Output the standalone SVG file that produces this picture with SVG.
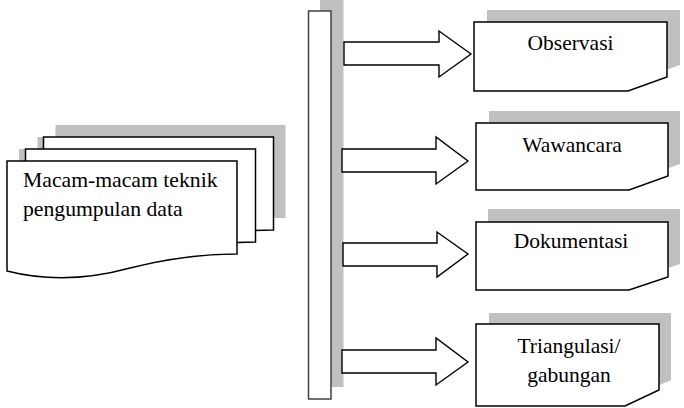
<svg xmlns="http://www.w3.org/2000/svg" width="684" height="408" viewBox="0 0 684 408">
<style>
.sh{fill:#c0c0c0;stroke:none}
.bx{fill:#fff;stroke:#000;stroke-width:1.5;stroke-linejoin:miter}
.ar{fill:#fff;stroke:#000;stroke-width:1.4}
</style>
<defs>
<path id="doc" d="M7,161 H237 V254 C210,254 170,258 130,268 C90,279 50,282 7,271 Z"/>
</defs>
<rect width="684" height="408" fill="#fff"/>
<g id="bar">
<rect class="sh" x="320" y="-1" width="23.5" height="388"/>
<rect x="308.5" y="11" width="22.5" height="388" fill="#fff" stroke="#404040" stroke-width="1.5"/>
</g>
<g id="source">
<use href="#doc" class="sh" transform="translate(48.5,-36)"/>
<use href="#doc" class="sh" transform="translate(30.5,-24)"/>
<use href="#doc" class="sh" transform="translate(12,-12)"/>
<use href="#doc" class="bx" transform="translate(36.5,-24)"/>
<use href="#doc" class="bx" transform="translate(18.5,-12)"/>
<use href="#doc" class="bx"/>
<text x="23" y="187" font-family="Liberation Serif, serif" font-size="21.7">Macam-macam teknik</text>
<text x="23" y="216" font-family="Liberation Serif, serif" font-size="21.7">pengumpulan data</text>
</g>
<g id="connectors">
<polygon class="ar" points="344,42 439,42 439,31 471,54 439,77 439,65 344,65"/>
<polygon class="ar" points="342,149 436,149 436,137 468,161 436,184 436,172 342,172"/>
<polygon class="ar" points="343,243 437,243 437,232 468,254 437,277 437,266 343,266"/>
<polygon class="ar" points="342,350 436,350 436,338 468,362 436,385 436,373 342,373"/>
</g>
<g id="observasi">
<path class="sh" d="M487,10 H680 V65 L641,79 H487 Z"/>
<path class="bx" d="M474,22 H667 V77 L628,91 H474 Z"/>
<text x="570.5" y="50" text-anchor="middle" font-family="Liberation Serif, serif" font-size="21.5">Observasi</text>
</g>
<g id="wawancara">
<path class="sh" d="M489,111 H680 V164 L641,178 H489 Z"/>
<path class="bx" d="M476,123 H668 V176 L629,190 H476 Z"/>
<text x="572" y="152" text-anchor="middle" font-family="Liberation Serif, serif" font-size="21.5">Wawancara</text>
</g>
<g id="dokumentasi">
<path class="sh" d="M488,209 H680 V264 L641,277 H488 Z"/>
<path class="bx" d="M476,222 H668 V277 L629,290 H476 Z"/>
<text x="571" y="248" text-anchor="middle" font-family="Liberation Serif, serif" font-size="21.5">Dokumentasi</text>
</g>
<g id="triangulasi">
<path class="sh" d="M489,313 H671 V380 L637,395 H489 Z"/>
<path class="bx" d="M476,324 H659 V390 L625,406 H476 Z"/>
<text x="569" y="353" text-anchor="middle" font-family="Liberation Serif, serif" font-size="21.5">Triangulasi/</text>
<text x="569" y="382" text-anchor="middle" font-family="Liberation Serif, serif" font-size="21.5">gabungan</text>
</g>
</svg>
